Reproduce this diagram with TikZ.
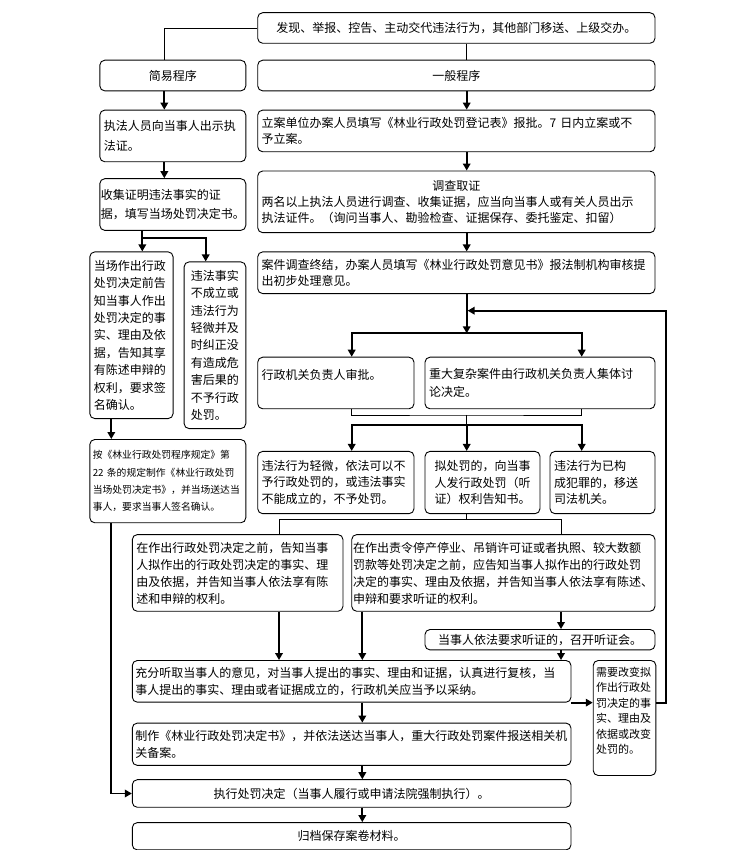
\documentclass[tikz,border=0pt]{standalone}
\usepackage{fontspec}
\setmainfont{Noto Sans CJK SC}
\usetikzlibrary{arrows.meta,positioning}
\tikzset{
	box/.style={rectangle,rounded corners=5pt,draw=black,line width=0.9pt,inner xsep=4pt,inner ysep=2pt,align=left,font=\fontsize{12}{16.5}\selectfont},
	flow/.style={-{Triangle[length=7pt,width=7.5pt]},line width=1.8pt},
	wire/.style={line width=0.8pt}
}
\begin{document}
\begin{tikzpicture}[x=1pt,y=1pt]
		\useasboundingbox (0,0) rectangle (754,850);
		\coordinate (rx) at (466.7,0);
		\coordinate (lx) at (164.3,0);
		\coordinate (ld) at (111.3,0);
		\coordinate (lc) at (205.7,0);
		\coordinate (ma) at (351.7,0);
		\coordinate (mb) at (581.7,0);
		\coordinate (ga) at (279,0);
		\coordinate (gb) at (561,0);
		\coordinate (gc) at (362.3,0);
		\coordinate (lfork) at (142.3,612.3);
		\coordinate (fork1) at (466.7,516.7);
		\coordinate (merge) at (466.7,435);
		\coordinate (fork2) at (466.7,425);
		\coordinate (fork3) at (466.7,331);
		\coordinate (back) at (467.6,539.3);
		\coordinate (fbc) at (665.7,539.3);

		\node[box,align=center,text width=389.3pt,minimum height=30.6pt] (src) at (456.35,822) {发现、举报、控告、主动交代违法行为，其他部门移送、上级交办。};
		\node[box,align=center,text width=389.3pt,minimum height=30.7pt,below=16pt of src] (yiban) {一般程序};
		\node[box,align=center,text width=138pt,minimum height=30.7pt,left=11pt of yiban] (jianyi) {简易程序};
		\node[box,text width=389.3pt,minimum height=41.7pt,below=18.3pt of yiban] (lian) {立案单位办案人员填写《林业行政处罚登记表》报批。7 日内立案或不\\予立案。};
		\node[box,text width=389.3pt,minimum height=61.7pt,font=\fontsize{12}{16}\selectfont,below=18.3pt of lian] (diaocha) {\makebox[\hsize]{调查取证}\\两名以上执法人员进行调查、收集证据，应当向当事人或有关人员出示\\执法证件。（询问当事人、勘验检查、证据保存、委托鉴定、扣留）};
		\node[box,text width=389.3pt,minimum height=41.7pt,below=18.3pt of diaocha] (anjian) {案件调查终结，办案人员填写《林业行政处罚意见书》报法制机构审核提\\出初步处理意见。};

		\node[box,text width=138pt,minimum height=51.7pt,font=\fontsize{12}{19.5}\selectfont,below=18.3pt of jianyi] (zhifa) {执法人员向当事人出示执\\法证。};
		\node[box,inner xsep=1pt,text width=144pt,minimum height=51.7pt,font=\fontsize{12}{19.5}\selectfont,below=16pt of zhifa] (shouji) {收集证明违法事实的证\\据，填写当场处罚决定书。};
		\node[box,text width=75.3pt,minimum height=166.7pt,font=\fontsize{12}{17.4}\selectfont,below right=20.6pt and -10pt of shouji.south west] (dangchang) {当场作出行政\\处罚决定前告\\知当事人作出\\处罚决定的事\\实、理由及依\\据，告知其享\\有陈述申辩的\\权利，要求签\\名确认。};
		\node[box,inner xsep=6.8pt,text width=48.1pt,minimum height=166.7pt,font=\fontsize{12}{17.4}\selectfont,below left=30.6pt and 0pt of shouji.south east] (buchengli) {违法事实\\不成立或\\违法行为\\轻微并及\\时纠正没\\有造成危\\害后果的\\不予行政\\处罚。};
		\node[box,inner xsep=3pt,text width=150pt,minimum height=83.3pt,font=\fontsize{9.8}{17.4}\selectfont,below right=20pt and 0pt of dangchang.south west] (an22) {按《林业行政处罚程序规定》第\\22 条的规定制作《林业行政处罚\\当场处罚决定书》，并当场送达当\\事人，要求当事人签名确认。};

		\node[box,text width=148.3pt,minimum height=51.6pt,below right=62.7pt and 0pt of anjian.south west] (shenpi) {行政机关负责人审批。\\\mbox{}};
		\node[box,text width=222pt,minimum height=51.6pt,font=\fontsize{12}{18.3}\selectfont,below left=62.7pt and 0pt of anjian.south east] (zhongda) {重大复杂案件由行政机关负责人集体讨\\论决定。};
		\node[box,text width=148.3pt,minimum height=62.3pt,below=41.7pt of shenpi] (qingwei) {违法行为轻微，依法可以不\\予行政处罚的，或违法事实\\不能成立的，不予处罚。};
		\node[box,align=center,text width=107pt,minimum height=62.3pt,below right=41.7pt and 0pt of zhongda.south west] (nichufa) {拟处罚的，向当事\\人发行政处罚（听\\证）权利告知书。};
		\node[box,text width=97pt,minimum height=62.3pt,below left=41.7pt and 0pt of zhongda.south east] (fanzui) {违法行为已构\\成犯罪的，移送\\司法机关。};

		\node[box,text width=202.7pt,minimum height=76.7pt,font=\fontsize{12}{17}\selectfont,below right=20pt and -125.4pt of qingwei.south west] (gaozhi) {在作出行政处罚决定之前，告知当事\\人拟作出的行政处罚决定的事实、理\\由及依据，并告知当事人依法享有陈\\述和申辩的权利。};
		\node[box,inner xsep=1.5pt,text width=300.3pt,minimum height=76.7pt,font=\fontsize{12}{17}\selectfont,below left=20pt and 0pt of fanzui.south east] (zeling) {在作出责令停产停业、吊销许可证或者执照、较大数额\\罚款等处罚决定之前，应告知当事人拟作出的行政处罚\\决定的事实、理由及依据，并告知当事人依法享有陈述、\\申辩和要求听证的权利。};
		\node[box,align=center,text width=222pt,minimum height=20.4pt,below left=17.3pt and 0pt of zeling.south east] (tingzheng) {当事人依法要求听证的，召开听证会。};
		\node[box,inner xsep=3pt,text width=432.7pt,minimum height=41.7pt,below right=48.3pt and 0pt of gaozhi.south west] (chongfen) {充分听取当事人的意见，对当事人提出的事实、理由和证据，认真进行复核，当\\事人提出的事实、理由或者证据成立的，行政机关应当予以采纳。};
		\node[box,inner xsep=3pt,text width=56.7pt,minimum height=115pt,font=\fontsize{11}{15.4}\selectfont,below right=0pt and 21.3pt of chongfen.north east] (gaibian) {需要改变拟\\作出行政处\\罚决定的事\\实、理由及\\依据或改变\\处罚的。\\\mbox{}};
		\node[box,inner xsep=3pt,text width=432.7pt,minimum height=42.3pt,below=20pt of chongfen] (zhizuo) {制作《林业行政处罚决定书》，并依法送达当事人，重大行政处罚案件报送相关机\\关备案。};
		\node[box,align=center,inner xsep=3pt,text width=432.7pt,minimum height=27.6pt,below=13.4pt of zhizuo] (zhixing) {执行处罚决定（当事人履行或申请法院强制执行）。};
		\node[box,align=center,inner xsep=3pt,text width=432.7pt,minimum height=27.3pt,below=14.4pt of zhixing] (guidang) {归档保存案卷材料。};

		\draw[wire] (src.west) -| (jianyi.north -| lx);
		\draw[wire] (src.south -| rx) -- (yiban.north -| rx);
		\draw[flow] (yiban.south -| rx) -- (lian.north -| rx);
		\draw[flow] (lian.south -| rx) -- (diaocha.north -| rx);
		\draw[flow] (diaocha.south -| rx) -- (anjian.north -| rx);
		\draw[flow] (jianyi.south -| lx) -- (zhifa.north -| lx);
		\draw[flow] (zhifa.south -| lx) -- (shouji.north -| lx);
		\draw[flow] (shouji.south -| lfork) -- (dangchang.north -| lfork);
		\draw[flow] (lfork) -| (buchengli.north -| lc);
		\draw[flow] (dangchang.south -| ld) -- (an22.north -| ld);
		\draw[flow] (an22.south -| ld) |- (zhixing.west);
		\draw[flow] (anjian.south -| fork1) -- (fork1);
		\draw[flow] (fork1) -| (shenpi.north -| ma);
		\draw[flow] (fork1) -| (zhongda.north -| mb);
		\draw[wire] (shenpi.south -| ma) |- (merge) -| (zhongda.south -| mb);
		\draw[wire] (merge) -- (fork2);
		\draw[flow] (fork2) -| (qingwei.north -| ma);
		\draw[flow] (fork2) -- (nichufa.north -| fork2);
		\draw[flow] (fork2) -| (fanzui.north -| mb);
		\draw[wire] (nichufa.south -| fork3) -- (fork3);
		\draw[wire] (fork3) -| (gaozhi.north -| ga);
		\draw[wire] (fork3) -| (zeling.north -| gb);
		\draw[flow] (gaozhi.south -| ga) -- (chongfen.north -| ga);
		\draw[flow] (zeling.south -| gc) -- (chongfen.north -| gc);
		\draw[flow] (zeling.south -| gb) -- (tingzheng.north -| gb);
		\draw[flow] (tingzheng.south -| gb) -- (chongfen.north -| gb);
		\draw[flow] (chongfen.south -| gc) -- (zhizuo.north -| gc);
		\draw[flow] (zhizuo.south -| gc) -- (zhixing.north -| gc);
		\draw[flow] (zhixing.south -| gc) -- (guidang.north -| gc);
		\draw[flow] (chongfen.south east) -- (chongfen.south east -| gaibian.west);
		\draw[flow] (chongfen.south -| gaibian.east) -| (fbc) -- (back);
\end{tikzpicture}
\end{document}
